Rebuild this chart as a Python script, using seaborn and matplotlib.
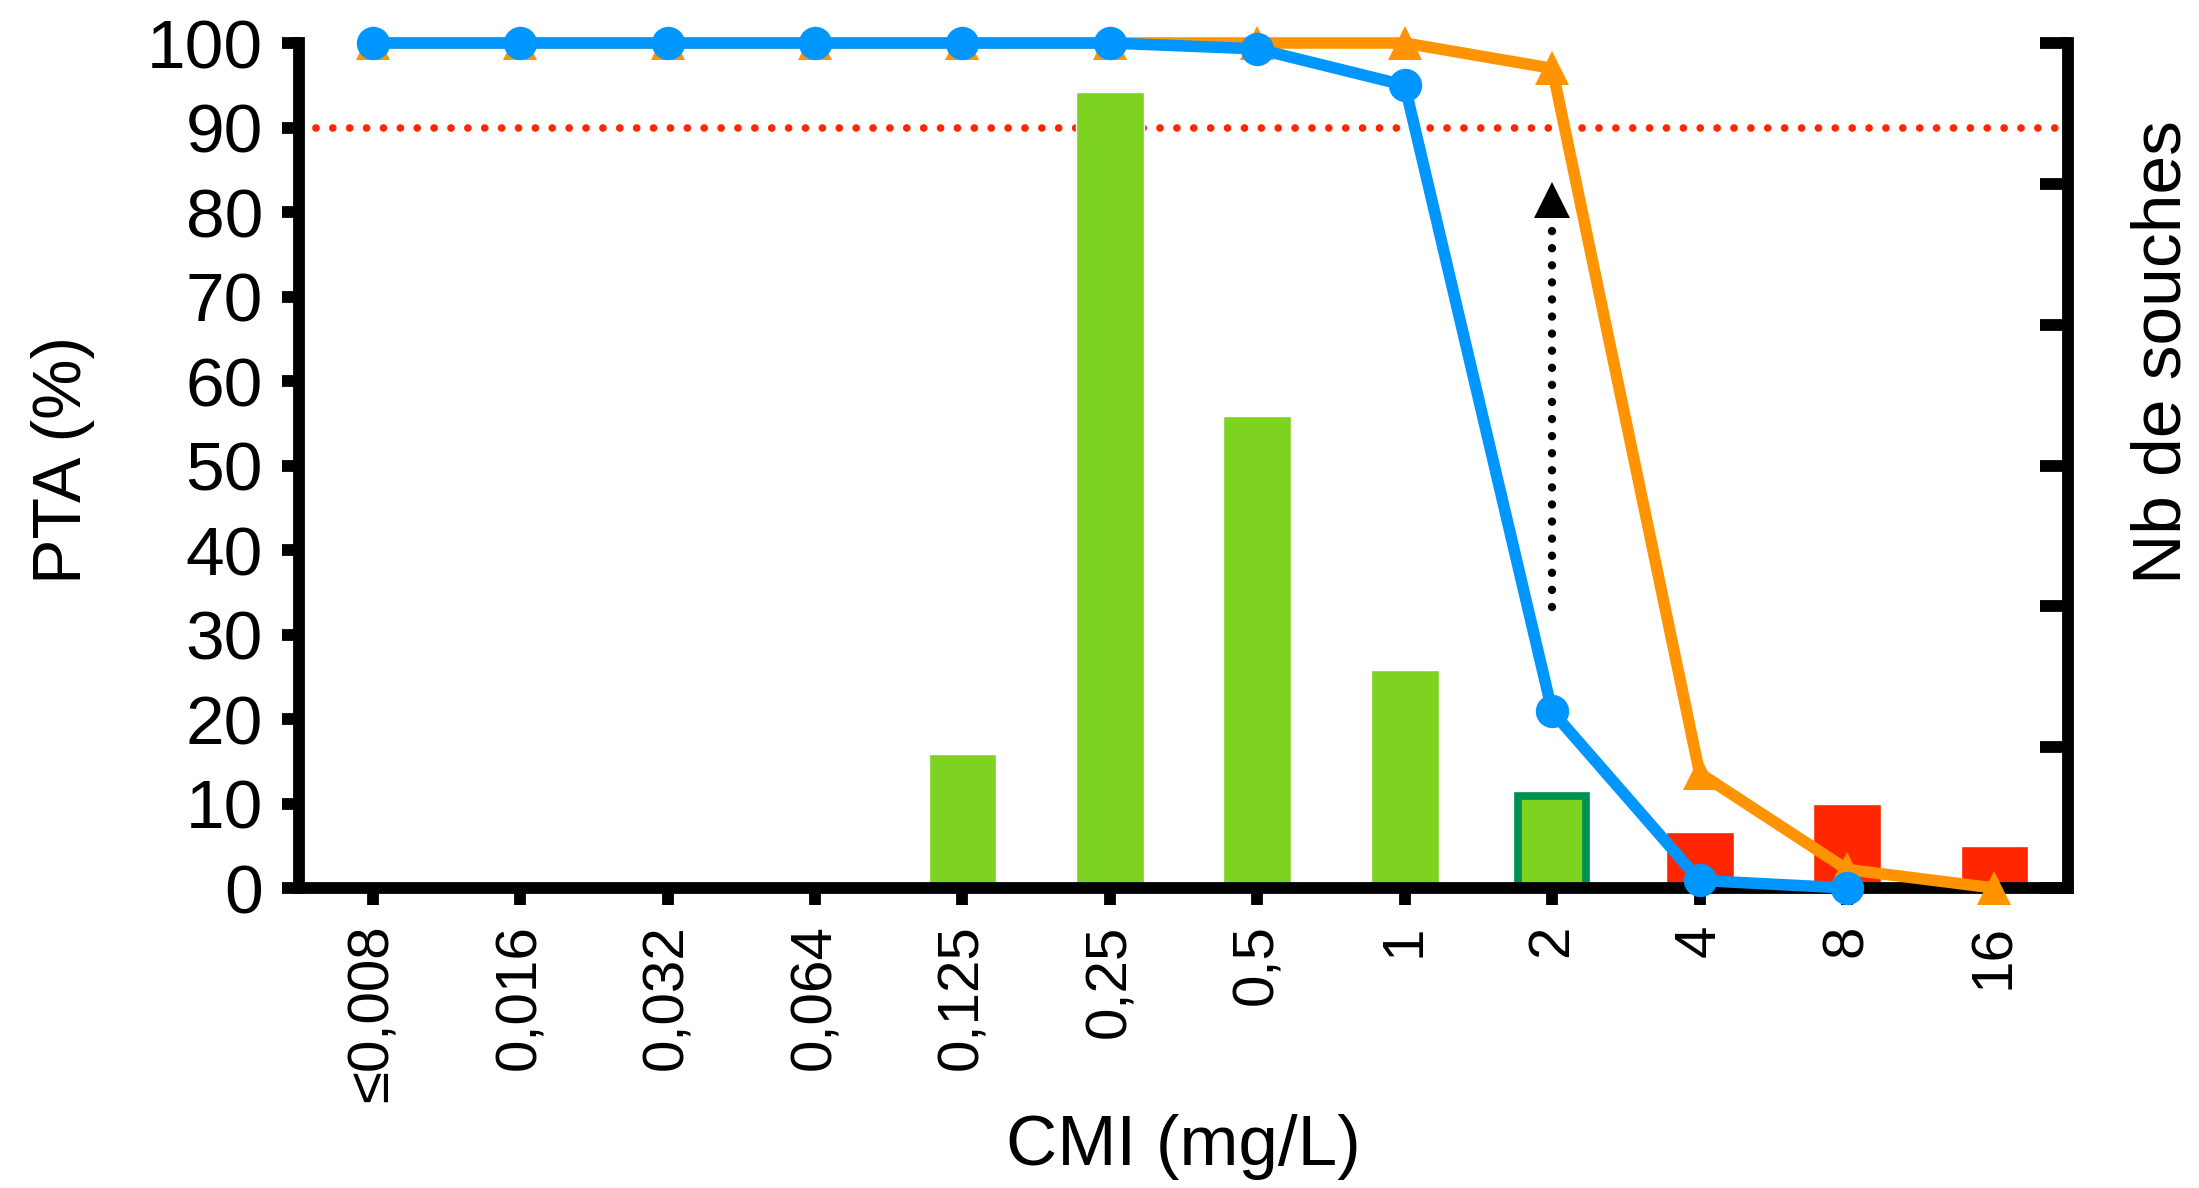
import numpy as np
import pandas as pd
import seaborn as sns
import matplotlib.pyplot as plt


# ----------------------------------------------------     Data   ---------------------------------------------------
cmi_labels = ['≤0,008', '0,016', '0,032', '0,064', '0,125', '0,25', '0,5', '1', '2', '4', '8', '16']
nb_souches = [0, 0, 0, 0, 19, 113, 67, 31, 13, 8, 12, 6]
pta_blue = [100, 100, 100, 100, 100, 100, 99.3, 95.0, 20.9, 0.9, 0.0, np.nan]
pta_orange = [100, 100, 100, 100, 100, 100, 100, 100, 97.0, 13.6, 2.2, 0.0]
bar_groups = ['S', 'S', 'S', 'S', 'S', 'S', 'S', 'S', 'S', 'R', 'R', 'R']

pta_threshold = 90
highlight_cmi = '2'
arrow_cmi = '2'
arrow_from = 33.2
arrow_to = 81.4

pta_ticks = list(range(0, 101, 10))
souches_ticks = list(range(0, 121, 20))

# ----------------------------------------------------     Style   ---------------------------------------------------
BLUE = '#0096FF'
ORANGE = '#FF9300'
GREEN = '#7ED321'
DARK_GREEN = '#009051'
RED = '#FF2600'
group_colors = {'S': GREEN, 'R': RED}

sns.set_style('white')
plt.rcParams['font.family'] = ['Liberation Sans', 'DejaVu Sans']
plt.rcParams['text.color'] = 'black'
plt.rcParams['axes.labelcolor'] = 'black'

df = pd.DataFrame({'cmi': cmi_labels, 'souches': nb_souches,
                   'pta_blue': pta_blue, 'pta_orange': pta_orange})
df['pos'] = np.arange(len(df))
palette = {c: group_colors[g] for c, g in zip(cmi_labels, bar_groups)}

fig = plt.figure(figsize=(21.99, 11.88), dpi=100)
ax = fig.add_axes([0.136, 0.2525, 0.8045, 0.7113])
ax2 = ax.twinx()

# threshold line (under the bars)
ax2.plot([0, 1], [pta_threshold, pta_threshold], transform=ax.get_yaxis_transform(),
         color=RED, lw=5.5, ls=(0, (0.01, 2.2)), dash_capstyle='round',
         zorder=1, scalex=False, scaley=False)

# bars: number of strains (right axis)
sns.barplot(data=df, x='cmi', y='souches', hue='cmi', order=cmi_labels, palette=palette,
            width=0.46, saturation=1, legend=False, ax=ax2, zorder=2)
for p in ax2.patches:
    i = int(round(p.get_x() + p.get_width() / 2))
    if cmi_labels[i] == highlight_cmi:
        p.set_edgecolor(DARK_GREEN)
        p.set_linewidth(5.5)

# PTA curves (left axis)
sns.lineplot(data=df, x='pos', y='pta_orange', color=ORANGE, lw=8.3, marker='^',
             markersize=24, markeredgewidth=0, errorbar=None, ax=ax, zorder=3, clip_on=False)
sns.lineplot(data=df, x='pos', y='pta_blue', color=BLUE, lw=8.3, marker='o',
             markersize=24, markeredgewidth=0, errorbar=None, ax=ax, zorder=4, clip_on=False)

# dotted arrow
arrow_pos = cmi_labels.index(arrow_cmi)
ax.plot([arrow_pos, arrow_pos], [arrow_from, arrow_to], color='black', lw=6,
        ls=(0, (0.01, 2.04)), dash_capstyle='round', marker='^', markevery=[1],
        markersize=26, markeredgewidth=0, zorder=5)

ax.set_zorder(ax2.get_zorder() + 1)
ax.patch.set_visible(False)

# ----------------------------------------------------     Axes   ---------------------------------------------------
ax.set_xlim(-0.5, len(cmi_labels) - 0.5)
ax.set_ylim(0, 100)
ax.set_yticks(pta_ticks)
ax2.set_ylim(0, souches_ticks[-1])
ax2.set_yticks(souches_ticks)
ax.set_xticks(range(len(cmi_labels)))
ax.set_xticklabels(cmi_labels, rotation=90)

for a in (ax, ax2):
    a.spines['top'].set_visible(False)
ax.spines['right'].set_visible(False)
ax2.spines['left'].set_visible(False)
ax2.spines['bottom'].set_visible(False)
for s in ('left', 'bottom'):
    ax.spines[s].set_linewidth(8.5)
    ax.spines[s].set_color('black')
ax2.spines['right'].set_linewidth(8.5)
ax2.spines['right'].set_color('black')

ax.tick_params(axis='y', left=True, direction='out', length=12, width=8.5, pad=14,
               labelsize=50, colors='black')
ax.tick_params(axis='x', bottom=True, direction='out', length=12, width=8.5, pad=14,
               labelsize=42, colors='black')
ax2.tick_params(axis='y', right=True, direction='in', length=20, width=8.5,
                labelright=False, colors='black')

ax.set_xlabel('CMI (mg/L)', fontsize=51)
ax.set_ylabel('PTA (%)', fontsize=49)
ax2.set_ylabel('Nb de souches', fontsize=50)
ax.xaxis.set_label_coords(0.5, -0.268)
ax.yaxis.set_label_coords(-0.1153, 0.507)
ax2.yaxis.set_label_coords(1.035, 0.634)

fig.savefig('out.png', dpi=100)
